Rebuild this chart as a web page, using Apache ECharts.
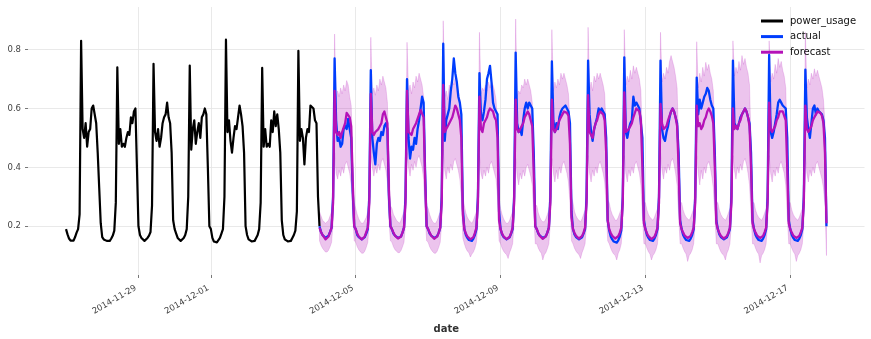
<!DOCTYPE html>
<html><head><meta charset="utf-8">
<script src="https://cdn.jsdelivr.net/npm/echarts@6/dist/echarts.min.js"></script>
<style>html,body{margin:0;padding:0;background:#fff}#c{width:871px;height:339px}</style>
</head><body><div id="c"></div>
<script>
// hourly series, power_usage from 2014-11-27 00:00, forecast/actual from 2014-12-04 00:00
const powerUsageStart = '2014-11-27';
const forecastStart = '2014-12-04';

const powerUsage = [
// 11-27
0.19,0.172,0.158,0.151,0.149,0.151,0.163,0.178,0.19,0.24,0.83,0.53,0.50,0.55,0.47,0.52,0.53,0.60,0.61,0.61,0.55,0.45,0.33,0.21,
// 11-28
0.163,0.155,0.152,0.150,0.148,0.150,0.158,0.168,0.185,0.28,0.74,0.48,0.53,0.47,0.48,0.47,0.50,0.52,0.51,0.57,0.55,0.59,0.60,0.40,
// 11-29
0.20,0.17,0.16,0.155,0.15,0.148,0.16,0.168,0.18,0.27,0.752,0.52,0.49,0.53,0.47,0.50,0.55,0.57,0.58,0.62,0.57,0.55,0.45,0.22,
// 11-30
0.19,0.175,0.16,0.155,0.15,0.148,0.16,0.17,0.19,0.30,0.746,0.46,0.53,0.56,0.48,0.52,0.55,0.50,0.57,0.58,0.60,0.58,0.40,0.20,
// 12-01
0.19,0.16,0.148,0.145,0.145,0.148,0.16,0.175,0.19,0.30,0.834,0.52,0.56,0.49,0.45,0.50,0.54,0.53,0.57,0.61,0.58,0.54,0.45,0.20,
// 12-02
0.17,0.155,0.15,0.148,0.148,0.15,0.16,0.17,0.19,0.28,0.738,0.47,0.53,0.47,0.48,0.47,0.56,0.52,0.59,0.54,0.58,0.53,0.45,0.22,
// 12-03
0.17,0.155,0.15,0.148,0.148,0.15,0.16,0.17,0.185,0.25,0.796,0.49,0.53,0.50,0.41,0.50,0.53,0.52,0.61,0.61,0.60,0.56,0.55,0.30,
// 12-04 00:00
0.20
];

const actual = [
// 12-04
0.20,0.18,0.17,0.165,0.16,0.16,0.168,0.18,0.195,0.30,0.77,0.56,0.49,0.50,0.47,0.48,0.53,0.54,0.53,0.565,0.53,0.50,0.32,0.20,
// 12-05
0.19,0.17,0.163,0.158,0.155,0.155,0.163,0.175,0.19,0.30,0.73,0.50,0.45,0.41,0.48,0.50,0.49,0.52,0.51,0.54,0.55,0.53,0.30,0.20,
// 12-06
0.19,0.175,0.168,0.163,0.16,0.16,0.165,0.178,0.195,0.30,0.70,0.50,0.43,0.47,0.46,0.50,0.48,0.53,0.56,0.60,0.64,0.62,0.38,0.20,
// 12-07
0.19,0.175,0.168,0.163,0.16,0.16,0.166,0.178,0.195,0.30,0.82,0.49,0.56,0.58,0.60,0.66,0.70,0.77,0.72,0.69,0.64,0.62,0.58,0.26,
// 12-08
0.19,0.17,0.16,0.153,0.15,0.15,0.158,0.17,0.19,0.30,0.72,0.58,0.56,0.59,0.63,0.70,0.72,0.745,0.69,0.62,0.60,0.59,0.58,0.25,
// 12-09
0.19,0.172,0.163,0.158,0.155,0.155,0.162,0.175,0.19,0.30,0.79,0.55,0.52,0.53,0.51,0.56,0.60,0.62,0.60,0.62,0.61,0.60,0.45,0.20,
// 12-10
0.19,0.175,0.168,0.163,0.16,0.16,0.166,0.178,0.195,0.30,0.76,0.56,0.52,0.55,0.53,0.57,0.59,0.60,0.60,0.61,0.60,0.59,0.55,0.25,
// 12-11
0.19,0.172,0.163,0.158,0.155,0.155,0.162,0.175,0.19,0.30,0.763,0.58,0.52,0.49,0.53,0.55,0.57,0.60,0.59,0.60,0.59,0.58,0.50,0.22,
// 12-12
0.185,0.165,0.155,0.148,0.144,0.144,0.152,0.165,0.185,0.30,0.774,0.52,0.50,0.53,0.55,0.56,0.64,0.61,0.62,0.61,0.60,0.60,0.50,0.22,
// 12-13
0.19,0.17,0.16,0.153,0.15,0.15,0.158,0.17,0.19,0.30,0.763,0.53,0.50,0.49,0.52,0.54,0.57,0.59,0.60,0.59,0.57,0.55,0.45,0.22,
// 12-14
0.19,0.17,0.16,0.153,0.15,0.15,0.158,0.17,0.19,0.30,0.705,0.58,0.63,0.60,0.62,0.64,0.65,0.67,0.66,0.63,0.61,0.60,0.45,0.22,
// 12-15
0.19,0.172,0.163,0.158,0.155,0.155,0.162,0.175,0.19,0.30,0.763,0.55,0.55,0.53,0.55,0.57,0.58,0.59,0.60,0.59,0.57,0.55,0.45,0.22,
// 12-16
0.19,0.17,0.16,0.153,0.15,0.15,0.158,0.17,0.19,0.30,0.782,0.52,0.50,0.52,0.55,0.58,0.62,0.63,0.62,0.61,0.61,0.60,0.50,0.22,
// 12-17
0.19,0.17,0.16,0.153,0.15,0.15,0.158,0.17,0.19,0.30,0.732,0.57,0.53,0.50,0.55,0.60,0.61,0.58,0.60,0.59,0.585,0.58,0.56,0.50,
// 12-18 00:00
0.20
];

const forecast = [
// 12-04
0.195,0.18,0.17,0.163,0.155,0.155,0.165,0.18,0.195,0.28,0.66,0.52,0.51,0.52,0.50,0.52,0.52,0.55,0.585,0.59,0.57,0.54,0.35,0.20,
// 12-05
0.19,0.175,0.165,0.16,0.155,0.155,0.165,0.18,0.195,0.28,0.65,0.52,0.51,0.52,0.52,0.53,0.53,0.55,0.58,0.59,0.585,0.55,0.32,0.20,
// 12-06
0.19,0.178,0.168,0.162,0.158,0.158,0.165,0.178,0.195,0.28,0.66,0.52,0.52,0.51,0.53,0.53,0.55,0.55,0.58,0.595,0.59,0.57,0.36,0.20,
// 12-07
0.19,0.178,0.168,0.162,0.157,0.157,0.165,0.178,0.195,0.28,0.68,0.52,0.53,0.53,0.55,0.55,0.57,0.59,0.61,0.60,0.58,0.56,0.50,0.24,
// 12-08
0.19,0.175,0.165,0.16,0.155,0.155,0.163,0.177,0.195,0.28,0.64,0.53,0.52,0.55,0.55,0.57,0.59,0.60,0.60,0.59,0.57,0.56,0.50,0.22,
// 12-09
0.19,0.175,0.165,0.16,0.156,0.156,0.164,0.177,0.195,0.28,0.63,0.53,0.52,0.52,0.54,0.55,0.57,0.58,0.59,0.58,0.56,0.54,0.38,0.20,
// 12-10
0.19,0.177,0.167,0.161,0.157,0.157,0.165,0.178,0.195,0.28,0.63,0.53,0.52,0.53,0.545,0.56,0.57,0.58,0.59,0.59,0.585,0.575,0.48,0.23,
// 12-11
0.19,0.177,0.167,0.162,0.158,0.158,0.166,0.178,0.195,0.28,0.645,0.52,0.52,0.50,0.53,0.55,0.56,0.58,0.59,0.59,0.58,0.56,0.45,0.22,
// 12-12
0.19,0.177,0.167,0.162,0.158,0.158,0.166,0.178,0.195,0.28,0.655,0.52,0.52,0.53,0.54,0.55,0.57,0.585,0.60,0.60,0.59,0.56,0.40,0.21,
// 12-13
0.19,0.176,0.166,0.16,0.156,0.156,0.164,0.177,0.195,0.28,0.616,0.55,0.53,0.53,0.54,0.56,0.575,0.59,0.60,0.59,0.57,0.54,0.40,0.21,
// 12-14
0.19,0.178,0.168,0.163,0.16,0.16,0.167,0.18,0.195,0.28,0.61,0.54,0.55,0.53,0.54,0.56,0.57,0.59,0.60,0.59,0.575,0.55,0.40,0.21,
// 12-15
0.19,0.177,0.167,0.162,0.158,0.158,0.166,0.178,0.195,0.28,0.60,0.53,0.54,0.53,0.55,0.56,0.58,0.59,0.60,0.59,0.57,0.54,0.40,0.21,
// 12-16
0.19,0.178,0.168,0.163,0.16,0.16,0.167,0.18,0.195,0.28,0.62,0.53,0.52,0.52,0.54,0.56,0.57,0.59,0.595,0.59,0.575,0.56,0.40,0.21,
// 12-17
0.19,0.178,0.168,0.163,0.16,0.16,0.167,0.18,0.195,0.28,0.61,0.53,0.52,0.52,0.54,0.56,0.57,0.58,0.59,0.59,0.585,0.575,0.55,0.45,
// 12-18 00:00
0.21
];

const forecastHigh = [
// 12-04
0.25,0.235,0.22,0.215,0.21,0.215,0.22,0.235,0.25,0.36,0.853,0.63,0.66,0.64,0.67,0.65,0.68,0.66,0.695,0.68,0.64,0.61,0.45,0.28,
// 12-05
0.26,0.24,0.225,0.215,0.21,0.21,0.22,0.23,0.25,0.36,0.842,0.65,0.67,0.645,0.68,0.66,0.70,0.68,0.71,0.69,0.67,0.62,0.42,0.27,
// 12-06
0.26,0.24,0.23,0.22,0.215,0.21,0.22,0.235,0.25,0.36,0.825,0.66,0.68,0.65,0.69,0.67,0.71,0.69,0.72,0.70,0.68,0.64,0.45,0.27,
// 12-07
0.26,0.24,0.225,0.215,0.21,0.21,0.22,0.235,0.25,0.37,0.898,0.64,0.66,0.63,0.68,0.66,0.70,0.68,0.71,0.69,0.66,0.63,0.55,0.30,
// 12-08
0.27,0.245,0.23,0.22,0.215,0.21,0.22,0.235,0.25,0.36,0.859,0.65,0.67,0.66,0.68,0.66,0.69,0.67,0.69,0.68,0.66,0.63,0.55,0.29,
// 12-09
0.26,0.24,0.225,0.215,0.21,0.21,0.22,0.235,0.25,0.36,0.904,0.64,0.66,0.65,0.68,0.67,0.70,0.68,0.70,0.68,0.66,0.62,0.45,0.27,
// 12-10
0.27,0.245,0.23,0.22,0.215,0.215,0.225,0.24,0.255,0.37,0.868,0.66,0.69,0.67,0.70,0.68,0.72,0.70,0.72,0.70,0.68,0.65,0.55,0.30,
// 12-11
0.28,0.25,0.235,0.225,0.22,0.215,0.225,0.24,0.255,0.37,0.876,0.66,0.69,0.66,0.71,0.69,0.72,0.70,0.72,0.70,0.68,0.65,0.52,0.29,
// 12-12
0.28,0.255,0.24,0.23,0.22,0.22,0.23,0.245,0.26,0.37,0.868,0.68,0.71,0.69,0.73,0.70,0.745,0.72,0.74,0.72,0.70,0.66,0.48,0.28,
// 12-13
0.28,0.255,0.24,0.23,0.225,0.22,0.23,0.245,0.26,0.37,0.859,0.69,0.72,0.70,0.74,0.72,0.76,0.78,0.76,0.74,0.71,0.67,0.48,0.28,
// 12-14
0.28,0.255,0.24,0.23,0.225,0.22,0.23,0.245,0.26,0.37,0.827,0.67,0.72,0.69,0.74,0.71,0.757,0.73,0.75,0.72,0.70,0.66,0.48,0.28,
// 12-15
0.28,0.255,0.24,0.23,0.225,0.22,0.23,0.245,0.26,0.37,0.83,0.71,0.74,0.72,0.76,0.73,0.78,0.75,0.77,0.74,0.72,0.68,0.48,0.28,
// 12-16
0.28,0.255,0.24,0.23,0.225,0.22,0.23,0.245,0.26,0.37,0.83,0.69,0.72,0.70,0.75,0.72,0.77,0.74,0.76,0.73,0.71,0.67,0.48,0.28,
// 12-17
0.28,0.255,0.24,0.23,0.225,0.22,0.23,0.245,0.26,0.37,0.859,0.67,0.70,0.68,0.72,0.70,0.735,0.71,0.73,0.71,0.69,0.67,0.63,0.55,
// 12-18 00:00
0.30
];

const forecastLow = [
// 12-04
0.15,0.135,0.125,0.118,0.112,0.112,0.118,0.13,0.145,0.21,0.45,0.38,0.36,0.39,0.37,0.40,0.38,0.41,0.42,0.40,0.38,0.34,0.24,0.15,
// 12-05
0.145,0.13,0.12,0.113,0.108,0.108,0.115,0.128,0.145,0.21,0.44,0.40,0.37,0.40,0.38,0.41,0.39,0.42,0.43,0.41,0.39,0.35,0.22,0.15,
// 12-06
0.145,0.13,0.12,0.115,0.11,0.11,0.117,0.13,0.145,0.21,0.45,0.40,0.37,0.41,0.39,0.42,0.40,0.43,0.44,0.42,0.40,0.36,0.24,0.15,
// 12-07
0.145,0.13,0.12,0.113,0.108,0.108,0.115,0.128,0.145,0.21,0.46,0.39,0.36,0.40,0.38,0.41,0.39,0.42,0.43,0.41,0.39,0.36,0.30,0.16,
// 12-08
0.14,0.125,0.115,0.11,0.095,0.105,0.112,0.125,0.145,0.21,0.44,0.38,0.36,0.39,0.37,0.40,0.38,0.41,0.42,0.40,0.38,0.36,0.30,0.15,
// 12-09
0.14,0.125,0.115,0.108,0.103,0.09,0.11,0.123,0.14,0.21,0.43,0.37,0.34,0.38,0.36,0.39,0.37,0.40,0.41,0.39,0.37,0.34,0.24,0.14,
// 12-10
0.14,0.125,0.115,0.108,0.085,0.103,0.11,0.123,0.14,0.21,0.43,0.38,0.35,0.39,0.36,0.40,0.38,0.41,0.42,0.40,0.38,0.35,0.28,0.15,
// 12-11
0.14,0.125,0.115,0.108,0.103,0.09,0.11,0.123,0.14,0.21,0.44,0.38,0.35,0.39,0.37,0.40,0.38,0.41,0.42,0.40,0.38,0.35,0.27,0.15,
// 12-12
0.14,0.125,0.113,0.105,0.10,0.085,0.108,0.12,0.14,0.21,0.44,0.38,0.35,0.39,0.37,0.40,0.38,0.41,0.42,0.40,0.38,0.34,0.24,0.14,
// 12-13
0.14,0.125,0.113,0.105,0.085,0.10,0.108,0.12,0.14,0.21,0.45,0.39,0.36,0.40,0.38,0.41,0.39,0.42,0.43,0.41,0.38,0.34,0.24,0.14,
// 12-14
0.14,0.125,0.113,0.105,0.08,0.10,0.108,0.12,0.14,0.21,0.44,0.38,0.34,0.39,0.36,0.40,0.38,0.41,0.42,0.40,0.37,0.33,0.24,0.14,
// 12-15
0.14,0.125,0.113,0.105,0.10,0.085,0.108,0.12,0.14,0.21,0.44,0.39,0.36,0.40,0.38,0.41,0.39,0.42,0.43,0.41,0.38,0.34,0.24,0.14,
// 12-16
0.14,0.125,0.113,0.105,0.075,0.10,0.108,0.12,0.14,0.21,0.44,0.38,0.35,0.39,0.37,0.40,0.38,0.41,0.42,0.40,0.38,0.34,0.24,0.14,
// 12-17
0.14,0.125,0.113,0.105,0.08,0.10,0.108,0.12,0.14,0.21,0.44,0.38,0.35,0.39,0.37,0.40,0.38,0.41,0.42,0.40,0.38,0.36,0.33,0.27,
// 12-18 00:00
0.10
];

const xTickLabels = ['2014-11-29','2014-12-01','2014-12-05','2014-12-09','2014-12-13','2014-12-17'];
const yTickValues = [0.2, 0.4, 0.6, 0.8];
const seriesNames = ['power_usage', 'actual', 'forecast'];
const seriesColors = ['#000000', '#003DFD', '#b512b8'];

function parseDay(s){ const p = s.split('-').map(Number); return new Date(p[0], p[1]-1, p[2]).getTime(); }
const HOUR = 3600e3;
const tPU = parseDay(powerUsageStart), tFC = parseDay(forecastStart);
const puData = powerUsage.map((v,i)=>[tPU + i*HOUR, v]);
const acData = actual.map((v,i)=>[tFC + i*HOUR, v]);
const fcData = forecast.map((v,i)=>[tFC + i*HOUR, v]);
const bandData = forecastLow.map((v,i)=>[tFC + i*HOUR, v, forecastHigh[i]]);
const xTicks = xTickLabels.map(parseDay);
const xMin = tPU - 1.05*24*HOUR, xMax = tFC + 14*24*HOUR + 1.05*24*HOUR;

function fmtDate(v){ const d = new Date(v); const p = n => (n<10?'0':'')+n; return d.getFullYear()+'-'+p(d.getMonth()+1)+'-'+p(d.getDate()); }

function renderBand(params, api){
  if (params.dataIndex !== 0) return null;
  const pts = [];
  for (let i = 0; i < bandData.length; i++) pts.push(api.coord([bandData[i][0], bandData[i][2]]));
  for (let i = bandData.length - 1; i >= 0; i--) pts.push(api.coord([bandData[i][0], bandData[i][1]]));
  return { type: 'polygon', shape: { points: pts },
    style: { fill: 'rgba(181,18,184,0.25)', stroke: 'rgba(181,18,184,0.22)', lineWidth: 0.8 } };
}

const chart = echarts.init(document.getElementById('c'), null, {renderer:'canvas'});
const FONT = 'DejaVu Sans';
chart.setOption({
  animation: false,
  backgroundColor: '#ffffff',
  textStyle: { fontFamily: FONT },
  grid: { left: 28, right: 6.5, top: 7, bottom: 61, containLabel: false },
  legend: {
    data: seriesNames.map(n => ({ name: n, icon: 'rect' })),
    orient: 'vertical', left: 761, top: 16, itemWidth: 22, itemHeight: 3, itemGap: 5.6, padding: 0,
    textStyle: { fontSize: 10, color: '#111', fontFamily: FONT, padding: [0,0,0,2] }
  },
  xAxis: {
    type: 'value', min: xMin, max: xMax, scale: true,
    name: 'date', nameLocation: 'middle', nameGap: 49,
    nameTextStyle: { fontWeight: 'bold', fontSize: 10, color: '#333', fontFamily: FONT },
    axisLine: { show: false },
    axisTick: { show: true, length: 3, lineStyle: { color: '#555', width: 0.8 }, customValues: xTicks },
    axisLabel: { customValues: xTicks, rotate: 30, fontSize: 8.5, color: '#444', margin: 11, padding: [0, 3, 0, 0], fontFamily: FONT, formatter: v => fmtDate(v), hideOverlap: false },
    splitLine: { show: true, lineStyle: { color: '#e3e3e3', width: 0.8 } }
  },
  yAxis: {
    type: 'value', min: 0.034, max: 0.945,
    axisLine: { show: false },
    axisTick: { show: true, length: 3, lineStyle: { color: '#555', width: 0.8 }, customValues: yTickValues },
    axisLabel: { customValues: yTickValues, fontSize: 8.5, color: '#444', margin: 7, fontFamily: FONT, formatter: v => v.toFixed(1) },
    splitLine: { show: true, lineStyle: { color: '#e3e3e3', width: 0.8 } }
  },
  series: [
    { name: 'band', type: 'custom', data: bandData, encode: { x: 0, y: [1, 2] }, renderItem: renderBand, clip: true, silent: true, z: 1 },
    { name: 'power_usage', type: 'line', data: puData, symbol: 'none', color: seriesColors[0], lineStyle: { width: 2.2, join: 'round' }, z: 3 },
    { name: 'actual', type: 'line', data: acData, symbol: 'none', color: seriesColors[1], lineStyle: { width: 2.3, join: 'round' }, z: 4 },
    { name: 'forecast', type: 'line', data: fcData, symbol: 'none', color: seriesColors[2], lineStyle: { width: 2.3, join: 'round' }, z: 5 }
  ]
});
</script></body></html>
